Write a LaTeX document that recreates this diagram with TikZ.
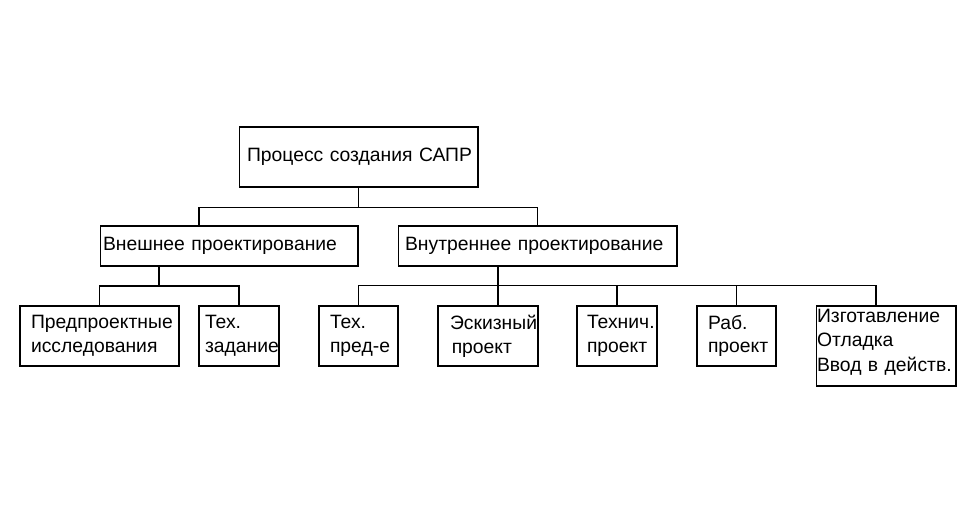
\documentclass[tikz,border=0pt]{standalone}
\usepackage{fontspec}
\setmainfont{Liberation Sans}
\usetikzlibrary{positioning}

\tikzset{
  box/.style={draw, line width=0.6pt, align=left, inner ysep=0pt,
    font=\fontsize{11}{13.5}\selectfont},
  link/.style={line width=0.6pt}
}

\begin{document}
\begin{tikzpicture}[x=0.02cm, y=-0.02cm]

            \useasboundingbox (0,0) rectangle (976,513);

            \node[box, text width=4.46cm, inner xsep=0.16cm, minimum height=1.2cm] (root) at (358.5,157) {Процесс~создания~САПР};

            \node[box, text width=5.04cm, inner xsep=0.06cm, minimum height=0.8cm] (ext) at (229,246) {Внешнее~проектирование};
            \node[box, text width=5.30cm, inner xsep=0.14cm, minimum height=0.8cm] (int) at (537.5,246) {Внутреннее~проектирование};

            \node[box, text width=2.74cm, inner xsep=0.22cm, minimum height=1.2cm] (pred) at (99.5,336) {Предпроектные\\исследования};
            \node[box, text width=1.36cm, inner xsep=0.12cm, minimum height=1.2cm] (texz) at (239,336) {Тех.\\задание};
            \node[box, text width=1.14cm, inner xsep=0.22cm, minimum height=1.2cm] (texp) at (358.5,336) {Тех.\\\mbox{пред-е}};
            \node[box, text width=1.52cm, inner xsep=0.24cm, minimum height=1.2cm] (eskiz) at (488,336) {Эскизный\\\hspace*{1pt}проект};
            \node[box, text width=1.20cm, inner xsep=0.20cm, minimum height=1.2cm] (techn) at (617,336) {Технич.\\проект};
            \node[box, text width=1.14cm, inner xsep=0.22cm, minimum height=1.2cm] (rab) at (736.5,336) {Раб.\\проект};
            \node[box, text width=2.76cm, inner xsep=0.02cm, minimum height=1.6cm, text depth=1.2cm,
              font=\fontsize{11}{13.8}\selectfont] (izgot) at (886,346) {Изготавление\\Отладка\\Ввод~в~действ.};

            % taps off the centre line
            \coordinate (extTap) at (199,226);
            \coordinate (extOut) at (159,266);
            \coordinate (intOut) at (498,266);
            \coordinate (izgTap) at (876,306);

            \draw[link] (root.south) -- ++(0,20) -| (extTap);
            \draw[link] (root.south) ++(0,20) -| (int.north);

            \draw[link] (extOut) -- ++(0,20) -| (pred.north);
            \draw[link] (extOut) ++(0,20) -| (texz.north);

            \draw[link] (intOut) -- (intOut |- eskiz.north);
            \draw[link] (texp.north) -- ++(0,-20) -| (izgTap);
            \draw[link] (techn.north) -- ++(0,-20);
            \draw[link] (rab.north) -- ++(0,-20);

\end{tikzpicture}
\end{document}
